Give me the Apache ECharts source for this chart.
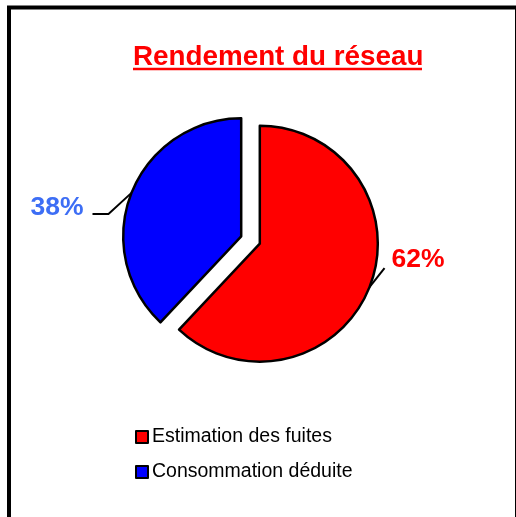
<!DOCTYPE html>
<html>
<head>
<meta charset="utf-8">
<script src="https://cdn.jsdelivr.net/npm/echarts@6/dist/echarts.min.js"></script>
<style>
  html, body { margin: 0; padding: 0; background: #fff; }
  #echart { width: 516px; height: 517px; }
</style>
</head>
<body>
<div id="echart"></div>
<script>
var categories = ['Estimation des fuites', 'Consommation déduite'];
var values = [62, 38];
var colors = ['#FF0000', '#0000FF'];
var labelColors = ['#FF0000', '#3D6EF5'];

var cx = 250.5, cy = 240, radius = 118, offset = 10;

// unit vector pointing at the middle of slice i (start at 12 o'clock, clockwise)
function midDir(i) {
  var total = 0, before = 0;
  for (var k = 0; k < values.length; k++) {
    total += values[k];
    if (k < i) before += values[k];
  }
  var a = (90 - 360 * (before + values[i] / 2) / total) * Math.PI / 180;
  return [Math.cos(a), -Math.sin(a)];
}

// leader line shape for each slice
function leader(i) {
  var d = midDir(i);
  var s = [cx + (offset + radius) * d[0], cy + (offset + radius) * d[1]];
  if (i === 0) {
    var a = [s[0] + 15, s[1] - 19];
    return { x: a[0] + 7, y: a[1] - 8, align: 'left', verticalAlign: 'middle',
             labelLinePoints: [s, a, a] };
  }
  var b = [s[0] - 23, s[1] + 21];
  var c = [b[0] - 16, b[1]];
  return { x: c[0] - 9, y: c[1] - 6, align: 'right', verticalAlign: 'middle',
           labelLinePoints: [s, b, c] };
}

// one pie per slice so that each slice is pulled out of the pie
var series = categories.map(function (cat, i) {
  var d = midDir(i);
  return {
    name: cat,
    type: 'pie',
    center: [cx + offset * d[0], cy + offset * d[1]],
    radius: radius,
    startAngle: 90,
    clockwise: true,
    emphasis: { disabled: true },
    label: {
      show: true,
      position: 'outside',
      formatter: '{d}%',
      fontFamily: 'Liberation Sans',
      fontWeight: 'bold',
      fontSize: 26.5
    },
    labelLine: { show: true, lineStyle: { color: '#000', width: 2 } },
    labelLayout: function () { return leader(i); },
    data: categories.map(function (name, j) {
      if (j !== i) {
        return { name: name, value: values[j],
                 itemStyle: { color: 'rgba(0,0,0,0)', borderWidth: 0 },
                 label: { show: false }, labelLine: { show: false } };
      }
      return { name: name, value: values[j],
               itemStyle: { color: colors[j], borderColor: '#000', borderWidth: 2.5 },
               label: { color: labelColors[j] } };
    })
  };
});

var myChart = echarts.init(document.getElementById('echart'));
var option = {
  backgroundColor: '#fff',
  animation: false,
  title: {
    text: 'Rendement du réseau',
    left: 133,
    top: 43,
    padding: 0,
    textStyle: {
      color: '#FF0000',
      fontFamily: 'Liberation Sans',
      fontWeight: 'bold',
      fontSize: 27.8
    }
  },
  legend: {
    orient: 'vertical',
    left: 135,
    top: 426,
    padding: 0,
    itemWidth: 12,
    itemHeight: 12,
    itemGap: 13,
    icon: 'rect',
    selectedMode: false,
    data: categories.map(function (name, i) {
      return { name: name, itemStyle: { color: colors[i], borderColor: '#000', borderWidth: 2 } };
    }),
    textStyle: {
      color: '#000',
      fontFamily: 'Liberation Sans',
      fontSize: 19.5,
      lineHeight: 22,
      padding: [0, 0, 0, -1]
    }
  },
  graphic: [
    { type: 'rect', shape: { x: 9, y: 7.5, width: 508, height: 540 },
      style: { fill: 'none', stroke: '#000', lineWidth: 4 }, silent: true },
    { type: 'line', shape: { x1: 133, y1: 69, x2: 422, y2: 69 },
      style: { stroke: '#FF0000', lineWidth: 2.5 }, silent: true }
  ],
  series: series
};
myChart.setOption(option);
</script>
</body>
</html>
